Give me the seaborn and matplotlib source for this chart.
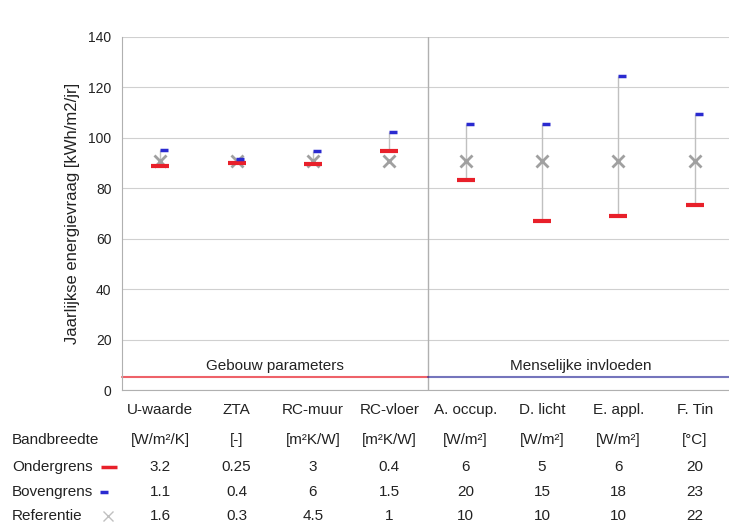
import matplotlib
matplotlib.use("Agg")
import matplotlib.pyplot as plt
import matplotlib.transforms as mtransforms
import seaborn as sns
import pandas as pd

# Data
parameters = ["U-waarde", "ZTA", "RC-muur", "RC-vloer",
              "A. occup.", "D. licht", "E. appl.", "F. Tin"]
units = ["[W/m²/K]", "[-]", "[m²K/W]", "[m²K/W]",
         "[W/m²]", "[W/m²]", "[W/m²]", "[°C]"]
lower_result = [89.0, 90.0, 89.7, 94.6, 83.3, 67.2, 69.0, 73.3]
upper_result = [95.2, 91.5, 94.8, 102.3, 105.4, 105.4, 124.5, 109.4]
reference_result = [90.7, 90.7, 90.7, 90.7, 90.7, 90.7, 90.7, 90.7]
lower_setting = ["3.2", "0.25", "3", "0.4", "6", "5", "6", "20"]
upper_setting = ["1.1", "0.4", "6", "1.5", "20", "15", "18", "23"]
reference_setting = ["1.6", "0.3", "4.5", "1", "10", "10", "10", "22"]
groups = ["Gebouw parameters", "Menselijke invloeden"]

df = pd.DataFrame({
    "param": parameters,
    "x": range(len(parameters)),
    "low": lower_result,
    "high": upper_result,
    "ref": reference_result,
})

sns.set_style("white")
plt.rcParams["font.family"] = ["Liberation Sans", "DejaVu Sans"]

RED = "#e8202a"
BLUE = "#2a2ad0"
GREY = "#a0a0a0"
TXT = "#222222"

W, H = 729, 525
fig = plt.figure(figsize=(W / 100, H / 100), dpi=100)
ax = fig.add_axes([122 / W, 1 - 390 / H, (733 - 122) / W, (390 - 37) / H])

ax.set_xlim(-0.5, len(parameters) - 0.5)
ax.set_ylim(0, 140)
ax.set_yticks(range(0, 141, 20))
ax.yaxis.grid(True, color="#d0d0d0", linewidth=0.8)
ax.set_axisbelow(True)
ax.set_xticks([])
for side in ["top", "right"]:
    ax.spines[side].set_visible(False)
for side in ["left", "bottom"]:
    ax.spines[side].set_color("#b0b0b0")
ax.tick_params(axis="y", colors="#b0b0b0", length=4, labelcolor=TXT, labelsize=10)

# range lines
ax.vlines(df["x"], df["low"], df["high"], color="#c0c0c0", linewidth=1, zorder=2)
# reference markers
sns.scatterplot(data=df, x="x", y="ref", marker="x", s=75, color=GREY,
                linewidth=2, ax=ax, zorder=3, legend=False)
# lower / upper markers
ax.plot(df["x"], df["low"], linestyle="none", marker="_", markersize=13,
        markeredgewidth=3, color=RED, zorder=4)
ax.plot(df["x"] + 0.05, df["high"], linestyle="none", marker="_", markersize=6,
        markeredgewidth=2.5, color=BLUE, zorder=4)
ax.set_xlabel("")
ax.set_ylabel("Jaarlijkse energievraag [kWh/m2/jr]", fontsize=12, color=TXT, labelpad=6)

# group divider and group bands
ax.axvline(3.5, color="#b0b0b0", linewidth=1, zorder=1)
ax.plot([-0.5, 3.5], [5, 5], color=RED, linewidth=1.5, alpha=0.7, clip_on=False)
ax.plot([3.5, 7.5], [5, 5], color="#3a3aa0", linewidth=1.5, alpha=0.7, clip_on=False)
ax.text(1.5, 9.5, groups[0], ha="center", va="center", fontsize=11, color=TXT)
ax.text(5.5, 9.5, groups[1], ha="center", va="center", fontsize=11, color=TXT)

# table below the chart
tr = mtransforms.blended_transform_factory(ax.transData, fig.transFigure)
rows = [(410, parameters), (440, units), (467, lower_setting),
        (492, upper_setting), (516, reference_setting)]
for ypx, labels in rows:
    for i, lab in enumerate(labels):
        ax.text(i, 1 - ypx / H, lab, transform=tr, ha="center", va="center",
                fontsize=11, color=TXT)

row_names = [(440, "Bandbreedte"), (467, "Ondergrens"), (492, "Bovengrens"), (516, "Referentie")]
for ypx, name in row_names:
    fig.text(12 / W, 1 - ypx / H, name, ha="left", va="center", fontsize=11, color=TXT)

ax.plot([109 / W], [1 - 467 / H], transform=fig.transFigure, marker="_", markersize=12,
        markeredgewidth=2.5, color=RED, clip_on=False)
ax.plot([104 / W], [1 - 492 / H], transform=fig.transFigure, marker="_", markersize=6,
        markeredgewidth=2.5, color=BLUE, clip_on=False)
ax.plot([108 / W], [1 - 516 / H], transform=fig.transFigure, marker="x", markersize=7,
        markeredgewidth=1, color="#c0c0c0", clip_on=False)

fig.savefig("out.png", dpi=100)
